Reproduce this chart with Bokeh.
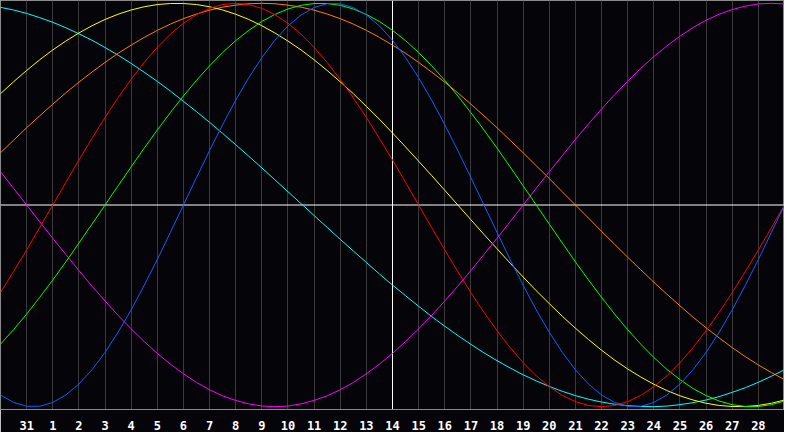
from bokeh.plotting import figure
from bokeh.models import FixedTicker, Span, Range1d
from bokeh.embed import file_html
from bokeh.resources import INLINE

# day labels on the axis (positions 1..29)
tick_labels = ["31", "1", "2", "3", "4", "5", "6", "7", "8", "9", "10", "11", "12", "13",
               "14", "15", "16", "17", "18", "19", "20", "21", "22", "23", "24", "25",
               "26", "27", "28"]
today_label = "14"
samples_per_day = 2

# half-daily values (start of day 30 .. start of day 1 of next month)
blue = [-0.942, -0.979, -0.998, -0.998, -0.979, -0.942, -0.888, -0.817, -0.731, -0.631,
        -0.520, -0.398, -0.270, -0.136, 0.0, 0.136, 0.270, 0.398, 0.520, 0.631,
        0.731, 0.817, 0.888, 0.942, 0.979, 0.998, 0.998, 0.979, 0.942, 0.888,
        0.817, 0.731, 0.631, 0.520, 0.398, 0.270, 0.136, 0.0, -0.136, -0.270,
        -0.398, -0.520, -0.631, -0.731, -0.817, -0.888, -0.942, -0.979, -0.998, -0.998,
        -0.979, -0.942, -0.888, -0.817, -0.731, -0.631, -0.520, -0.398, -0.270, -0.136,
        0.0]
red = [-0.434, -0.330, -0.223, -0.112, 0.0, 0.112, 0.223, 0.330, 0.434, 0.532,
       0.623, 0.707, 0.782, 0.847, 0.901, 0.944, 0.975, 0.994, 1.0, 0.994,
       0.975, 0.944, 0.901, 0.847, 0.782, 0.707, 0.623, 0.532, 0.434, 0.330,
       0.223, 0.112, 0.0, -0.112, -0.223, -0.330, -0.434, -0.532, -0.623, -0.707,
       -0.782, -0.847, -0.901, -0.944, -0.975, -0.994, -1.0, -0.994, -0.975, -0.944,
       -0.901, -0.847, -0.782, -0.707, -0.623, -0.532, -0.434, -0.330, -0.223, -0.112,
       0.0]
green = [-0.690, -0.618, -0.541, -0.458, -0.372, -0.282, -0.189, -0.095, 0.0, 0.095,
         0.189, 0.282, 0.372, 0.458, 0.541, 0.618, 0.690, 0.756, 0.815, 0.866,
         0.910, 0.945, 0.972, 0.990, 0.999, 0.999, 0.990, 0.972, 0.945, 0.910,
         0.866, 0.815, 0.756, 0.690, 0.618, 0.541, 0.458, 0.372, 0.282, 0.189,
         0.095, 0.0, -0.095, -0.189, -0.282, -0.372, -0.458, -0.541, -0.618, -0.690,
         -0.756, -0.815, -0.866, -0.910, -0.945, -0.972, -0.990, -0.999, -0.999, -0.990,
         -0.972]
magenta = [0.165, 0.083, 0.0, -0.083, -0.165, -0.245, -0.325, -0.402, -0.476, -0.547,
           -0.614, -0.677, -0.736, -0.789, -0.837, -0.880, -0.916, -0.946, -0.969, -0.986,
           -0.997, -1.0, -0.997, -0.986, -0.969, -0.946, -0.916, -0.880, -0.837, -0.789,
           -0.736, -0.677, -0.614, -0.547, -0.476, -0.402, -0.325, -0.245, -0.165, -0.083,
           0.0, 0.083, 0.165, 0.245, 0.325, 0.402, 0.476, 0.547, 0.614, 0.677,
           0.736, 0.789, 0.837, 0.880, 0.916, 0.946, 0.969, 0.986, 0.997, 1.0,
           0.997]
yellow = [0.552, 0.611, 0.667, 0.720, 0.769, 0.813, 0.853, 0.889, 0.920, 0.946,
          0.967, 0.983, 0.994, 0.999, 0.999, 0.994, 0.983, 0.967, 0.946, 0.920,
          0.889, 0.853, 0.813, 0.769, 0.720, 0.667, 0.611, 0.552, 0.489, 0.425,
          0.357, 0.288, 0.217, 0.146, 0.073, 0.0, -0.073, -0.146, -0.217, -0.288,
          -0.357, -0.425, -0.489, -0.552, -0.611, -0.667, -0.720, -0.769, -0.813, -0.853,
          -0.889, -0.920, -0.946, -0.967, -0.983, -0.994, -0.999, -0.999, -0.994, -0.983,
          -0.967]
orange = [0.259, 0.321, 0.383, 0.442, 0.5, 0.556, 0.609, 0.659, 0.707, 0.752,
          0.793, 0.831, 0.866, 0.897, 0.924, 0.947, 0.966, 0.981, 0.991, 0.998,
          1.0, 0.998, 0.991, 0.981, 0.966, 0.947, 0.924, 0.897, 0.866, 0.831,
          0.793, 0.752, 0.707, 0.659, 0.609, 0.556, 0.5, 0.442, 0.383, 0.321,
          0.259, 0.195, 0.131, 0.065, 0.0, -0.065, -0.131, -0.195, -0.259, -0.321,
          -0.383, -0.442, -0.5, -0.556, -0.609, -0.659, -0.707, -0.752, -0.793, -0.831,
          -0.866]
cyan = [0.980, 0.967, 0.950, 0.929, 0.906, 0.879, 0.849, 0.817, 0.781, 0.743,
        0.702, 0.658, 0.613, 0.565, 0.514, 0.463, 0.410, 0.355, 0.299, 0.242,
        0.184, 0.125, 0.066, 0.007, -0.052, -0.111, -0.170, -0.228, -0.285, -0.342,
        -0.397, -0.450, -0.502, -0.553, -0.601, -0.647, -0.691, -0.733, -0.772, -0.808,
        -0.842, -0.872, -0.900, -0.924, -0.945, -0.963, -0.977, -0.988, -0.995, -0.999,
        -1.000, -0.997, -0.990, -0.980, -0.967, -0.950, -0.929, -0.906, -0.879, -0.849,
        -0.817]

series = [
    (cyan, "#00ffff"),
    (orange, "#ff8000"),
    (yellow, "#ffff00"),
    (magenta, "#ff00ff"),
    (green, "#00ff00"),
    (red, "#ff0000"),
    (blue, "#1060ff"),
]

n_days = (len(blue) - 1) / samples_per_day
ticks = list(range(1, len(tick_labels) + 1))
today_pos = tick_labels.index(today_label) + 1

BG = "#050408"
p = figure(width=784, height=432, output_backend="svg", toolbar_location=None,
           x_range=Range1d(0, n_days), y_range=Range1d(-1.014, 1.014),
           background_fill_color=BG, border_fill_color=BG,
           min_border_left=0, min_border_right=0, min_border_top=0, min_border_bottom=0,
           outline_line_color="#8a8a8a", outline_line_width=1)

p.yaxis.visible = False
p.ygrid.visible = False
p.xaxis.ticker = FixedTicker(ticks=ticks)
p.xaxis.major_label_overrides = {t: lab for t, lab in zip(ticks, tick_labels)}
p.xaxis.major_tick_line_color = None
p.xaxis.minor_tick_line_color = None
p.xaxis.axis_line_color = "#8a8a8a"
p.xaxis.major_label_text_color = "#ffffff"
p.xaxis.major_label_text_font = "DejaVu Sans Mono"
p.xaxis.major_label_text_font_style = "bold"
p.xaxis.major_label_text_font_size = "12px"
p.xaxis.major_label_standoff = 5
p.xgrid.grid_line_color = "#3a3a3a"
p.xgrid.grid_line_width = 1

p.add_layout(Span(location=today_pos, dimension="height", line_color="#ffffff",
                  line_width=1, level="underlay"))
p.add_layout(Span(location=0, dimension="width", line_color="#ffffff",
                  line_width=1, level="underlay"))

for vals, col in series:
    xs = [i / samples_per_day for i in range(len(vals))]
    p.line(xs, vals, line_color=col, line_width=1)

open("out.html", "w").write(file_html(p, INLINE))
